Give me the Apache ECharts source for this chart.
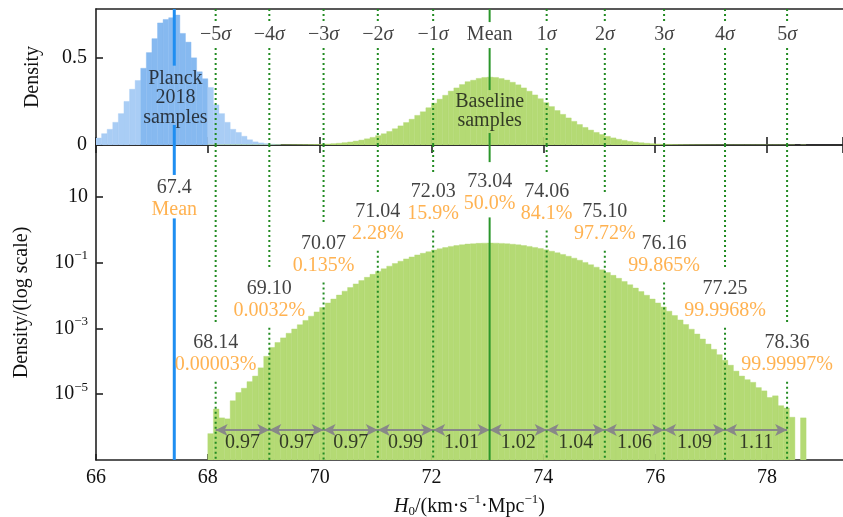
<!DOCTYPE html>
<html><head><meta charset="utf-8">
<script src="https://cdn.jsdelivr.net/npm/echarts@6/dist/echarts.min.js"></script>
<style>html,body{margin:0;padding:0;background:#fff}#c{width:843px;height:517px}</style>
</head><body><div id="c"></div>
<script>
// ---------------- data ----------------
const sigmaValues = [68.14, 69.10, 70.07, 71.04, 72.03, 73.04, 74.06, 75.10, 76.16, 77.25, 78.36];
const sigmaNames = ['−5σ', '−4σ', '−3σ', '−2σ', '−1σ', 'Mean', '1σ', '2σ', '3σ', '4σ', '5σ'];
const sigmaPercents = ['0.00003%', '0.0032%', '0.135%', '2.28%', '15.9%', '50.0%', '84.1%', '97.72%', '99.865%', '99.9968%', '99.99997%'];
const intervalWidths = [0.97, 0.97, 0.97, 0.99, 1.01, 1.02, 1.04, 1.06, 1.09, 1.11];
const planckMean = 67.4;

// Planck 2018 histogram (density), bins of 0.1 starting at 66.0
const planckBinStart = 66.0;
const planckBinWidth = 0.1;
const planckDensity = [
  0.04, 0.065, 0.09, 0.13, 0.18, 0.25, 0.32, 0.37, 0.44, 0.53,
  0.61, 0.70, 0.72, 0.73, 0.745, 0.64, 0.59, 0.50, 0.42, 0.38,
  0.33, 0.23, 0.18, 0.13, 0.09, 0.072, 0.05, 0.03, 0.018, 0.012,
  0.008, 0.005, 0.003
];

// Baseline histogram, log10(density), bins of 0.1 starting at 68.0
const baselineBinStart = 68.0;
const baselineBinWidth = 0.1;
const baselineLogDensity = [
  -6.20, -5.45, -5.72, -5.75, -5.20, -4.95, -4.82, -4.62, -4.45, -4.20,
  -3.85, -3.58, -3.43, -3.29, -3.15, -3.02, -2.89, -2.76, -2.63, -2.50,
  -2.37, -2.23, -2.11, -1.99, -1.87, -1.76, -1.65, -1.55, -1.45, -1.36,
  -1.27, -1.19, -1.11, -1.03, -0.96, -0.89, -0.83, -0.77, -0.72, -0.67,
  -0.62, -0.58, -0.545, -0.51, -0.485, -0.46, -0.44, -0.43, -0.418, -0.412,
  -0.41, -0.412, -0.419, -0.429, -0.444, -0.462, -0.485, -0.511, -0.542, -0.576,
  -0.615, -0.657, -0.704, -0.755, -0.809, -0.868, -0.93, -0.997, -1.068, -1.142,
  -1.221, -1.304, -1.39, -1.481, -1.576, -1.675, -1.777, -1.884, -1.995, -2.11,
  -2.229, -2.351, -2.478, -2.609, -2.744, -2.883, -3.026, -3.173, -3.324, -3.478,
  -3.638, -3.80, -3.97, -4.12, -4.30, -4.45, -4.56, -4.64, -4.80, -4.90,
  -5.10, -5.05, -5.35, -5.42, -5.70, null, -5.72
];

const xTickInterval = 2;
const topYTicks = { min: 0, max: 0.78, interval: 0.5 };
const logYTicks = { min: -7, max: 2.57, interval: 2 };

// ---------------- layout (data-space positions of annotations) ----------------
const X_MIN = 66, X_MAX = 79.36;
const sigmaLabelLogY = [-3.45, -1.81, -0.44, 0.53, 1.14, 1.45, 1.14, 0.53, -0.44, -1.81, -3.45];
const planckLabelLogY = 1.26;
const topLabelY = 0.631;
const arrowLogY = -6.09;
const arrowLabelLogY = -6.49;
const meanIdx = 5;

const FONT = 'Liberation Serif';
const FS = 20;
const BLACK = '#111';
const ORANGE = '#ff9f26';
const GREEN_FILL = '#b4da74';
const GREEN_LINE = '#2a962a';
const DOT_GREEN = '#228b22';
const BLUE_LINE = '#1f8ef1';
const BLUE_LIGHT = '#a9cdf5';
const BLUE_DARK = '#86b9f0';

// ---------------- build series data ----------------
const planckBins = planckDensity.map((d, i) => {
  const x0 = planckBinStart + i * planckBinWidth;
  const x1 = x0 + planckBinWidth;
  const core = (x0 >= 66.79 && x1 <= 68.01) ? 1 : 0;
  return [x0, x1, d, core];
});
const baseLogBins = [];
const baseLinBins = [];
baselineLogDensity.forEach((v, i) => {
  if (v === null) return;
  const x0 = baselineBinStart + i * baselineBinWidth;
  const x1 = x0 + baselineBinWidth;
  baseLogBins.push([x0, x1, v]);
  baseLinBins.push([x0, x1, Math.pow(10, v)]);
});

function histRender(base, colorFn) {
  return function (params, api) {
    const x0 = api.value(0), x1 = api.value(1), v = api.value(2);
    const p0 = api.coord([x0, v]);
    const p1 = api.coord([x1, base]);
    const c = colorFn(api);
    return {
      type: 'rect',
      shape: { x: p0[0], y: p0[1], width: p1[0] - p0[0], height: p1[1] - p0[1] },
      style: { fill: c, stroke: c, lineWidth: 0.4 }
    };
  };
}
function segRender(color, width, dash) {
  return function (params, api) {
    const x = api.value(0);
    const a = api.coord([x, api.value(1)]);
    const b = api.coord([x, api.value(2)]);
    return {
      type: 'line',
      shape: { x1: a[0], y1: a[1], x2: b[0], y2: b[1] },
      style: { stroke: color, lineWidth: width, lineDash: dash || null }
    };
  };
}

// vertical segments
const topTop = topYTicks.max;
const sigmaTopSegs = [], meanTopSegs = [], planckTopSegs = [];
const sigmaBotSegs = [], meanBotSegs = [], planckBotSegs = [];
sigmaValues.forEach((x, i) => {
  const yb = sigmaLabelLogY[i];
  if (i === meanIdx) {
    meanTopSegs.push([x, topTop, 0.705], [x, 0.556, 0.315], [x, 0.069, 0]);
    meanBotSegs.push([x, logYTicks.max, yb + 0.6], [x, yb - 1.08, logYTicks.min]);
  } else {
    sigmaTopSegs.push([x, topTop, 0.711], [x, 0.556, 0]);
    sigmaBotSegs.push([x, logYTicks.max, yb + 0.6], [x, yb - 1.17, logYTicks.min]);
  }
});
planckTopSegs.push([planckMean, topTop, 0.455], [planckMean, 0.115, 0]);
planckBotSegs.push([planckMean, logYTicks.max, planckLabelLogY + 0.4], [planckMean, planckLabelLogY - 0.92, logYTicks.min]);

const textBase = { show: true, position: 'inside', fontFamily: FONT, fontSize: FS, color: BLACK };
const richSup = { sup: { fontSize: 13, fontFamily: FONT, color: BLACK, padding: [0, 0, 14, 0] } };

function textSeries(xi, yi, items, extraLabel) {
  return {
    type: 'scatter', xAxisIndex: xi, yAxisIndex: yi, symbolSize: 0, silent: true, z: 10,
    data: items,
    label: Object.assign({}, textBase, { formatter: p => p.data.text }, extraLabel || {})
  };
}

const sigmaTopItems = sigmaValues.map((x, i) => ({
  value: [x, topLabelY],
  text: sigmaNames[i].replace('σ', '{s|σ}')
}));
const numItems = sigmaValues.map((x, i) => ({ value: [x, sigmaLabelLogY[i]], text: x.toFixed(2) }));
numItems.push({ value: [planckMean, planckLabelLogY], text: String(planckMean) });
const pctItems = sigmaValues.map((x, i) => ({ value: [x, sigmaLabelLogY[i]], text: sigmaPercents[i] }));
pctItems.push({ value: [planckMean, planckLabelLogY], text: 'Mean' });
const widthItems = intervalWidths.map((w, i) => ({
  value: [(sigmaValues[i] + sigmaValues[i + 1]) / 2, arrowLabelLogY], text: w.toFixed(2)
}));
const arrowLines = intervalWidths.map((w, i) => [
  { coord: [sigmaValues[i], arrowLogY] }, { coord: [sigmaValues[i + 1], arrowLogY] }
]);

const isTick = (v, t) => Math.abs(((v - t.min) / t.interval) - Math.round((v - t.min) / t.interval)) < 1e-6;
const axisLineStyle = { color: '#222', width: 1.6 };
const option = {
  animation: false,
  backgroundColor: '#fff',
  grid: [
    { left: 96, top: 9, width: 747, height: 136, containLabel: false, outerBoundsMode: 'none' },
    { left: 96, top: 145, width: 747, height: 315, containLabel: false, outerBoundsMode: 'none' }
  ],
  xAxis: [
    { gridIndex: 0, type: 'value', min: X_MIN, max: X_MAX, interval: xTickInterval, position: 'bottom',
      axisLine: { onZero: false, lineStyle: axisLineStyle }, axisTick: { inside: true, length: 8, lineStyle: axisLineStyle },
      axisLabel: { show: false }, splitLine: { show: false } },
    { gridIndex: 0, type: 'value', min: X_MIN, max: X_MAX, interval: xTickInterval, position: 'top',
      axisLine: { show: true, onZero: false, lineStyle: axisLineStyle }, axisTick: { show: false },
      axisLabel: { show: false }, splitLine: { show: false } },
    { gridIndex: 1, type: 'value', min: X_MIN, max: X_MAX, interval: xTickInterval, position: 'bottom',
      axisLine: { onZero: false, lineStyle: axisLineStyle }, axisTick: { inside: true, length: 6, lineStyle: axisLineStyle },
      axisLabel: { fontFamily: FONT, fontSize: FS, color: BLACK, margin: 8, showMaxLabel: false,
        formatter: v => isTick(v, { min: X_MIN, interval: xTickInterval }) ? String(Math.round(v)) : '' },
      splitLine: { show: false },
      name: '{i|H}{sub|0}/(km·s{sup|−1}·Mpc{sup|−1})', nameLocation: 'middle', nameGap: 30,
      nameTextStyle: { fontFamily: FONT, fontSize: FS, color: BLACK,
        rich: { i: { fontFamily: FONT, fontSize: FS, fontStyle: 'italic', color: BLACK },
                sub: { fontFamily: FONT, fontSize: 13, color: BLACK, padding: [10, 0, 0, 0] },
                sup: { fontFamily: FONT, fontSize: 13, color: BLACK, padding: [0, 0, 14, 0] } } } },
    { gridIndex: 1, type: 'value', min: X_MIN, max: X_MAX, interval: xTickInterval, position: 'top',
      axisLine: { show: true, onZero: false, lineStyle: axisLineStyle }, axisTick: { inside: true, length: 8, lineStyle: axisLineStyle },
      axisLabel: { show: false }, splitLine: { show: false } }
  ],
  yAxis: [
    { gridIndex: 0, type: 'value', min: topYTicks.min, max: topYTicks.max, interval: topYTicks.interval,
      axisLine: { show: true, onZero: false, lineStyle: axisLineStyle }, axisTick: { show: true, inside: true, length: 7, lineStyle: axisLineStyle },
      axisLabel: { fontFamily: FONT, fontSize: FS, color: BLACK, margin: 9, showMaxLabel: false,
        formatter: v => isTick(v, topYTicks) ? String(v) : '' },
      splitLine: { show: false },
      name: 'Density', nameLocation: 'middle', nameGap: 53,
      nameTextStyle: { fontFamily: FONT, fontSize: FS, color: BLACK } },
    { gridIndex: 1, type: 'value', min: logYTicks.min, max: logYTicks.max, interval: logYTicks.interval,
      axisLine: { show: true, onZero: false, lineStyle: axisLineStyle }, axisTick: { show: true, inside: true, length: 7, lineStyle: axisLineStyle },
      axisLabel: { fontFamily: FONT, fontSize: FS, color: BLACK, margin: 8, rich: richSup,
        showMaxLabel: false, showMinLabel: false,
        formatter: v => {
          if (!isTick(v, logYTicks)) return '';
          const e = Math.round(v);
          if (e === logYTicks.min) return '';
          if (e === 1) return '10';
          return '10{sup|' + (e < 0 ? '−' : '') + Math.abs(e) + '}';
        } },
      splitLine: { show: false },
      name: 'Density/(log scale)', nameLocation: 'middle', nameGap: 64,
      nameTextStyle: { fontFamily: FONT, fontSize: FS, color: BLACK } }
  ],
  series: [
    { type: 'custom', xAxisIndex: 0, yAxisIndex: 0, clip: true, silent: true, z: 2,
      encode: { x: [0, 1], y: 2 }, data: planckBins,
      renderItem: histRender(0, api => api.value(3) ? BLUE_DARK : BLUE_LIGHT) },
    { type: 'custom', xAxisIndex: 0, yAxisIndex: 0, clip: true, silent: true, z: 2,
      encode: { x: [0, 1], y: 2 }, data: baseLinBins,
      renderItem: histRender(0, () => GREEN_FILL) },
    { type: 'custom', xAxisIndex: 2, yAxisIndex: 1, clip: true, silent: true, z: 2,
      encode: { x: [0, 1], y: 2 }, data: baseLogBins,
      renderItem: histRender(logYTicks.min, () => GREEN_FILL) },
    { type: 'custom', xAxisIndex: 0, yAxisIndex: 0, silent: true, z: 5, encode: { x: 0, y: [1, 2] },
      data: sigmaTopSegs, renderItem: segRender(DOT_GREEN, 2, [2, 3]) },
    { type: 'custom', xAxisIndex: 2, yAxisIndex: 1, silent: true, z: 5, encode: { x: 0, y: [1, 2] },
      data: sigmaBotSegs, renderItem: segRender(DOT_GREEN, 2, [2, 3]) },
    { type: 'custom', xAxisIndex: 0, yAxisIndex: 0, silent: true, z: 5, encode: { x: 0, y: [1, 2] },
      data: meanTopSegs, renderItem: segRender(GREEN_LINE, 2) },
    { type: 'custom', xAxisIndex: 2, yAxisIndex: 1, silent: true, z: 5, encode: { x: 0, y: [1, 2] },
      data: meanBotSegs, renderItem: segRender(GREEN_LINE, 2) },
    { type: 'custom', xAxisIndex: 0, yAxisIndex: 0, silent: true, z: 5, encode: { x: 0, y: [1, 2] },
      data: planckTopSegs, renderItem: segRender(BLUE_LINE, 3) },
    { type: 'custom', xAxisIndex: 2, yAxisIndex: 1, silent: true, z: 5, encode: { x: 0, y: [1, 2] },
      data: planckBotSegs, renderItem: segRender(BLUE_LINE, 3) },
    Object.assign(textSeries(2, 1, widthItems), {
      markLine: { silent: true, symbol: ['arrow', 'arrow'], symbolSize: [9, 12], animation: false,
        lineStyle: { color: '#888', width: 2, type: 'solid' }, label: { show: false },
        emphasis: { disabled: true }, data: arrowLines }
    }),
    textSeries(0, 0, sigmaTopItems, { rich: { s: { fontFamily: FONT, fontSize: FS, fontStyle: 'italic', color: BLACK } } }),
    textSeries(2, 1, numItems),
    textSeries(2, 1, pctItems, { color: ORANGE, offset: [0, 22] }),
    textSeries(0, 0, [{ value: [planckMean + 0.02, 0.27], text: 'Planck\n2018\nsamples' }], { lineHeight: 19.5 }),
    textSeries(0, 0, [{ value: [sigmaValues[meanIdx], 0.195], text: 'Baseline\nsamples' }], { lineHeight: 19 })
  ]
};
const chart = echarts.init(document.getElementById('c'));
chart.setOption(option);
</script>
</body></html>
